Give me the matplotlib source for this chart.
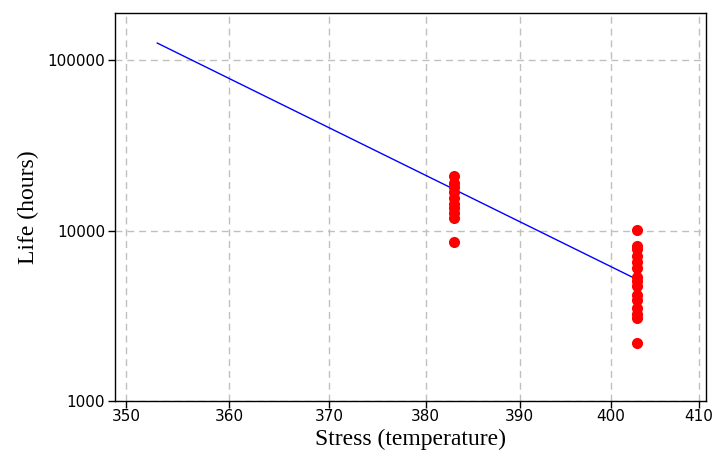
import numpy as np
import matplotlib
matplotlib.use("Agg")
import matplotlib.pyplot as plt
from matplotlib.ticker import FixedLocator, FixedFormatter, NullLocator

# Failure times (hours) observed at each test temperature
stress_383 = [383] * 10
life_383 = [21000, 18900, 17900, 16900, 15600, 14400, 13500, 12600, 11800, 8600]

stress_403 = [403] * 15
life_403 = [10100, 8150, 7750, 7050, 6500, 6050, 5350, 5080, 4750, 4200,
            3930, 3530, 3250, 3080, 2200]

# Fitted life-stress line end points
fit_stress = [353, 403]
fit_life = [125900, 5150]

x_ticks = [350, 360, 370, 380, 390, 400, 410]
y_ticks = [1000, 10000, 100000]
y_tick_labels = ["1000", "10000", "100000"]


def forward(t):
    return -1.0 / (np.asarray(t, dtype=float) + 273.15)


def inverse(u):
    return -1.0 / np.asarray(u, dtype=float) - 273.15


fig = plt.figure(figsize=(7.12, 4.58), dpi=100)
ax = fig.add_axes([0.1615, 0.1245, 0.83, 0.848])

ax.set_xscale("function", functions=(forward, inverse))
ax.set_yscale("log")

ax.plot(fit_stress, fit_life, color="#0000ff", lw=1.0, zorder=3)
ax.plot(stress_383, life_383, "o", color="#ff0000", ms=8, mec="none", zorder=4)
ax.plot(stress_403, life_403, "o", color="#ff0000", ms=8, mec="none", zorder=4)

ax.set_xlim(348.95, 410.8)
ax.set_ylim(1000, 190000)

ax.xaxis.set_major_locator(FixedLocator(x_ticks))
ax.xaxis.set_major_formatter(FixedFormatter([str(v) for v in x_ticks]))
ax.xaxis.set_minor_locator(NullLocator())
ax.yaxis.set_major_locator(FixedLocator(y_ticks))
ax.yaxis.set_major_formatter(FixedFormatter(y_tick_labels))
ax.yaxis.set_minor_locator(NullLocator())

ax.grid(True, color="#c0c0c0", linestyle=(0, (5, 3.5)), linewidth=1.0)
ax.set_axisbelow(True)

ax.tick_params(axis="both", direction="out", length=5, width=1,
               labelsize=11, colors="black")
ax.tick_params(axis="x", pad=1)
ax.tick_params(axis="y", pad=2)
for sp in ax.spines.values():
    sp.set_linewidth(1.0)
    sp.set_color("black")

ax.set_xlabel("Stress (temperature)", family="Liberation Serif", fontsize=17, labelpad=3)
ax.set_ylabel("Life (hours)", family="Liberation Serif", fontsize=17, labelpad=6)

fig.savefig("out.png", dpi=100)
